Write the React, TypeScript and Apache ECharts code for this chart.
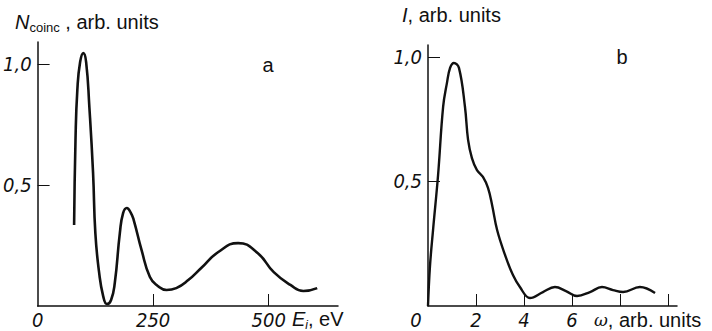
import React, { useEffect, useRef } from 'react';
import * as echarts from 'echarts';

// Panel a: coincidence counts vs. electron energy
const energyEv = [79, 82, 86, 92, 99, 105, 112, 120, 125, 133, 142, 150, 159, 167, 178, 185, 193, 202, 208, 225, 243, 260, 279, 300, 326, 354, 391, 434, 476, 511, 547, 575, 605];
const nCoinc = [0.335, 0.686, 0.893, 1.008, 1.045, 1.008, 0.822, 0.55, 0.3, 0.14, 0.04, 0.008, 0.025, 0.095, 0.302, 0.384, 0.405, 0.384, 0.355, 0.231, 0.12, 0.083, 0.066, 0.074, 0.107, 0.157, 0.223, 0.26, 0.219, 0.14, 0.087, 0.062, 0.074];

// Panel b: intensity vs. frequency
const omega = [0, 0.08, 0.21, 0.42, 0.63, 0.79, 0.92, 1.08, 1.29, 1.54, 1.67, 1.83, 2.04, 2.29, 2.5, 2.67, 2.88, 3.21, 3.54, 3.83, 4.25, 4.79, 5.29, 5.75, 6.21, 6.75, 7.25, 7.71, 8.13, 8.83, 9.46];
const intensity = [0, 0.157, 0.305, 0.526, 0.8, 0.896, 0.956, 0.976, 0.956, 0.8, 0.667, 0.594, 0.546, 0.518, 0.474, 0.406, 0.305, 0.205, 0.124, 0.076, 0.032, 0.056, 0.076, 0.06, 0.04, 0.056, 0.076, 0.064, 0.056, 0.076, 0.052];

const yTickValues = [0.5, 1.0];
const xTicksA = [250, 500];
const xLabelsA = [0, 250, 500];
const xTicksB = [2, 4, 6, 8, 10];
const xLabelsB = [0, 2, 4, 6];

const INK = '#111';
const narrow = "'Liberation Sans Narrow','DejaVu Sans Condensed','Liberation Sans',sans-serif";
const sans = "'Liberation Sans',Arial,'DejaVu Sans',sans-serif";

const labelFont = {
  fontFamily: narrow,
  fontStyle: 'italic' as const,
  fontSize: 20,
  color: INK,
};

function makeX(gridIndex: number, max: number, ticks: number[], labels: number[]) {
  return {
    type: 'value',
    gridIndex,
    min: 0,
    max,
    axisLine: { show: true, onZero: false, lineStyle: { color: INK, width: 1.5 } },
    axisTick: { show: true, inside: true, length: 12, customValues: ticks, lineStyle: { color: INK, width: 1 } },
    axisLabel: {
      customValues: labels,
      margin: 4,
      ...labelFont,
      formatter: (v: number) => (gridIndex === 1 && v === 0 ? '{z|0}' : String(v)),
      rich: { z: { ...labelFont, padding: [0, 24, 0, 0] } },
    },
    splitLine: { show: false },
  };
}

function makeY(gridIndex: number, max: number) {
  return {
    type: 'value',
    gridIndex,
    min: 0,
    max,
    axisLine: { show: true, onZero: false, lineStyle: { color: INK, width: 1.5 } },
    axisTick: { show: true, inside: true, length: 12, customValues: yTickValues, lineStyle: { color: INK, width: 1 } },
    axisLabel: {
      customValues: yTickValues,
      margin: 6,
      ...labelFont,
      formatter: (v: number) => v.toFixed(1).replace('.', ','),
    },
    splitLine: { show: false },
  };
}

export default function App() {
  const ref = useRef<HTMLDivElement>(null);
  useEffect(() => {
    document.body.style.margin = '0';
    if (!ref.current) return;
    const chart = echarts.init(ref.current, undefined, { renderer: 'svg' });
    const option = {
      animation: false,
      backgroundColor: '#fff',
      grid: [
        { left: 35, top: 42, width: 303, height: 264 },
        { left: 428, top: 45, width: 249, height: 261 },
      ],
      xAxis: [makeX(0, 650, xTicksA, xLabelsA), makeX(1, 10.375, xTicksB, xLabelsB)],
      yAxis: [makeY(0, 1.091), makeY(1, 1.048)],
      series: [
        {
          type: 'line',
          xAxisIndex: 0,
          yAxisIndex: 0,
          data: energyEv.map((e, i) => [e, nCoinc[i]]),
          showSymbol: false,
          smooth: 0.5,
          lineStyle: { color: INK, width: 2.6 },
        },
        {
          type: 'line',
          xAxisIndex: 1,
          yAxisIndex: 1,
          data: omega.map((w, i) => [w, intensity[i]]),
          showSymbol: false,
          smooth: 0.4,
          lineStyle: { color: INK, width: 2.4 },
        },
      ],
      graphic: [
        {
          type: 'text',
          x: 15,
          y: 22,
          style: {
            text: '{n|N}{s|coinc}{r| , arb. units}',
            verticalAlign: 'middle',
            rich: {
              n: { fontFamily: sans, fontStyle: 'italic', fontSize: 20, fill: INK, lineHeight: 24 },
              s: { fontFamily: sans, fontSize: 13, fill: INK, verticalAlign: 'bottom', lineHeight: 24, padding: [6, 0, 0, 0] },
              r: { fontFamily: sans, fontSize: 20, fill: INK, lineHeight: 24 },
            },
          },
        },
        {
          type: 'text',
          x: 402,
          y: 15,
          style: {
            text: '{n|I}{r|, arb. units}',
            verticalAlign: 'middle',
            rich: {
              n: { fontFamily: sans, fontStyle: 'italic', fontSize: 20, fill: INK },
              r: { fontFamily: sans, fontSize: 20, fill: INK },
            },
          },
        },
        {
          type: 'text',
          x: 292,
          y: 319,
          style: {
            text: '{n|E}{s|i}{r|, eV}',
            verticalAlign: 'middle',
            rich: {
              n: { fontFamily: sans, fontStyle: 'italic', fontSize: 20, fill: INK, lineHeight: 24 },
              s: { fontFamily: sans, fontStyle: 'italic', fontSize: 12, fill: INK, verticalAlign: 'bottom', lineHeight: 24, padding: [6, 0, 0, 0] },
              r: { fontFamily: sans, fontSize: 20, fill: INK, lineHeight: 24 },
            },
          },
        },
        {
          type: 'text',
          x: 594,
          y: 320,
          style: {
            text: '{n|ω}{r|, arb. units}',
            verticalAlign: 'middle',
            rich: {
              n: { fontFamily: "'DejaVu Serif','Liberation Serif',serif", fontStyle: 'italic', fontSize: 17, fill: INK },
              r: { fontFamily: sans, fontSize: 20, fill: INK },
            },
          },
        },
        {
          type: 'text',
          x: 268,
          y: 65,
          style: { text: 'a', fontFamily: sans, fontSize: 20, fill: INK, align: 'center', verticalAlign: 'middle' },
        },
        {
          type: 'text',
          x: 622,
          y: 57,
          style: { text: 'b', fontFamily: sans, fontSize: 20, fill: INK, align: 'center', verticalAlign: 'middle' },
        },
      ],
    };
    chart.setOption(option as any);
    return () => chart.dispose();
  }, []);
  return <div ref={ref} style={{ width: 712, height: 331 }} />;
}
